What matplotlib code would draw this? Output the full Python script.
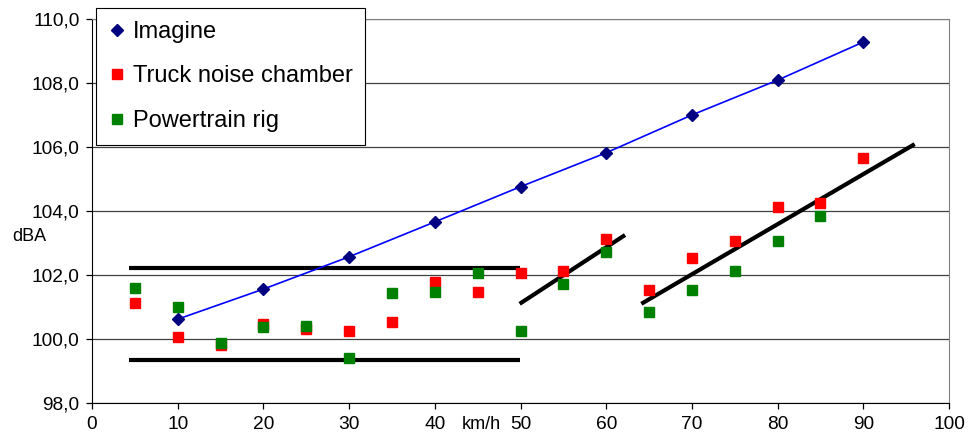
import numpy as np
import matplotlib
matplotlib.use("Agg")
import matplotlib.pyplot as plt
from matplotlib.ticker import FuncFormatter

plt.rcParams['font.family'] = ['Liberation Sans', 'DejaVu Sans']

# speeds (km/h)
speed_imagine = [10, 20, 30, 40, 50, 60, 70, 80, 90]
dba_imagine = [100.62, 101.56, 102.57, 103.66, 104.76, 105.82, 107.0, 108.09, 109.28]

speed_truck = [5, 10, 15, 20, 25, 30, 35, 40, 45, 50, 55, 60, 65, 70, 75, 80, 85, 90]
dba_truck = [101.13, 100.05, 99.81, 100.47, 100.30, 100.25, 100.54, 101.79, 101.48,
             102.07, 102.13, 103.13, 101.53, 102.54, 103.07, 104.13, 104.26, 105.67]

speed_rig = [5, 10, 15, 20, 25, 30, 35, 40, 45, 50, 55, 60, 65, 70, 75, 80, 85]
dba_rig = [101.6, 101.0, 99.88, 100.37, 100.42, 99.42, 101.43, 101.48, 102.05,
           100.24, 101.72, 102.72, 100.83, 101.53, 102.12, 103.07, 103.83]

# hand drawn black trend/limit lines: (x0, x1, y0, y1)
guide_lines = [
    (4.3, 49.9, 102.21, 102.21),
    (4.3, 49.9, 99.33, 99.33),
    (49.9, 62.2, 101.1, 103.25),
    (64.1, 96.0, 101.1, 106.09),
]

fig = plt.figure(figsize=(9.72, 4.42), dpi=100)
ax = fig.add_axes([0.0947, 0.0882, 0.8816, 0.8688])

ax.set_xlim(0, 100)
ax.set_ylim(98, 110)
ax.set_xticks(np.arange(0, 101, 10))
ax.set_yticks(np.arange(98, 110.1, 2))
ax.yaxis.set_major_formatter(FuncFormatter(lambda v, p: f"{v:.1f}".replace(".", ",")))
ax.grid(axis='y', color='#404040', linewidth=0.9)
ax.set_axisbelow(True)

for x0, x1, y0, y1 in guide_lines:
    ax.plot([x0, x1], [y0, y1], color='black', linewidth=3, solid_capstyle='butt', zorder=2)

ax.plot(speed_imagine, dba_imagine, color='#0000ff', linewidth=1.2, zorder=3)
ax.plot(speed_imagine, dba_imagine, linestyle='none', marker='D', ms=6.2,
        color='#000080', label='Imagine', zorder=4)
ax.plot(speed_truck, dba_truck, linestyle='none', marker='s', ms=7.6,
        color='#ff0000', label='Truck noise chamber', zorder=4)
ax.plot(speed_rig, dba_rig, linestyle='none', marker='s', ms=7.6,
        color='#008000', label='Powertrain rig', zorder=5)

for side in ['top', 'right']:
    ax.spines[side].set_color('#808080')
for side in ['left', 'bottom']:
    ax.spines[side].set_color('black')
ax.tick_params(direction='out', length=4, width=0.9, labelsize=13.8, pad=5)

fig.text(0.013, 0.455, 'dBA', fontsize=13)
fig.text(0.475, 0.03, 'km/h', fontsize=13)

leg = fig.legend(loc='upper left', bbox_to_anchor=(0.0988, 0.982), fontsize=17,
                 numpoints=1, handlelength=0.7, handletextpad=0.3, labelspacing=0.95,
                 borderpad=0.55, borderaxespad=0, fancybox=False, framealpha=1,
                 edgecolor='black')
leg.get_frame().set_linewidth(0.8)

fig.savefig('out.png', dpi=100)
